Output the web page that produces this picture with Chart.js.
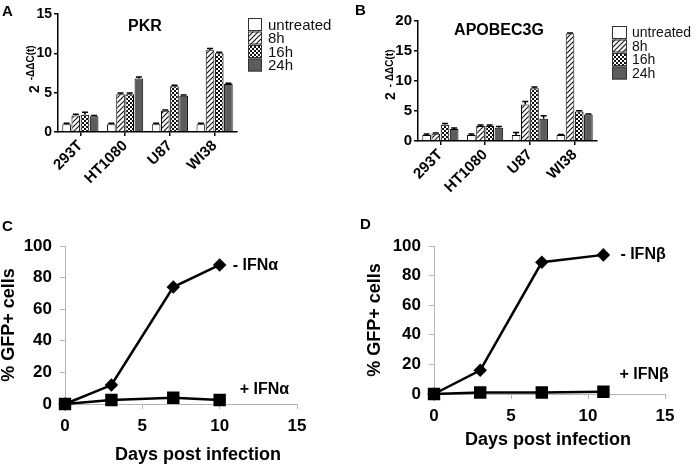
<!DOCTYPE html>
<html>
<head>
<meta charset="utf-8">
<script src="https://cdn.jsdelivr.net/npm/chart.js@4.4.0/dist/chart.umd.min.js"></script>
<style>
body{margin:0;background:#fff;}
#wrap{position:relative;width:700px;height:465px;overflow:hidden;background:#fff;}
.p{position:absolute;}
.lt{position:absolute;font:bold 15px "Liberation Sans",Arial,sans-serif;color:#000;line-height:15px;}
</style>
</head>
<body>
<div id="wrap">
  <div class="p" style="left:0;top:0;width:350px;height:210px"><canvas id="a" width="350" height="210"></canvas></div>
  <div class="p" style="left:350px;top:0;width:350px;height:210px"><canvas id="b" width="350" height="210"></canvas></div>
  <div class="p" style="left:0;top:210px;width:350px;height:255px"><canvas id="c" width="350" height="255"></canvas></div>
  <div class="p" style="left:350px;top:210px;width:350px;height:255px"><canvas id="d" width="350" height="255"></canvas></div>
  <div class="lt" style="left:2px;top:3px">A</div>
  <div class="lt" style="left:355px;top:2px">B</div>
  <div class="lt" style="left:2px;top:218px">C</div>
  <div class="lt" style="left:360px;top:216px">D</div>
</div>
<script>
// cell lines and treatment times
let cells = ["293T","HT1080","U87","WI38"];
let times = ["untreated","8h","16h","24h"];

// PKR 2^-ddCt
let pkrUntreated = [1.0,1.0,1.0,1.0];
let pkr8h  = [2.1,4.8,2.7,10.4];
let pkr16h = [2.2,4.8,5.8,10.0];
let pkr24h = [2.0,6.8,4.6,6.1];
let pkrErrUntreated = [0.1,0.1,0.1,0.1];
let pkrErr8h  = [0.15,0.15,0.1,0.2];
let pkrErr16h = [0.3,0.15,0.15,0.15];
let pkrErr24h = [0.1,0.2,0.1,0.1];

// APOBEC3G 2^-ddCt
let apoUntreated = [1.0,1.0,1.0,1.0];
let apo8h  = [1.2,2.5,6.1,17.9];
let apo16h = [2.7,2.5,8.8,4.9];
let apo24h = [2.0,2.2,3.7,4.4];
let apoErrUntreated = [0.15,0.15,0.4,0.1];
let apoErr8h  = [0.15,0.15,0.5,0.1];
let apoErr16h = [0.2,0.15,0.2,0.15];
let apoErr24h = [0.15,0.2,0.5,0.1];

// % GFP+ cells
let daysA = [0,3,7,10];
let gfpMinusIFNa = [0,12,74,88];
let gfpPlusIFNa  = [0,2.5,4,2.5];
let daysB = [0,3,7,11];
let gfpMinusIFNb = [0,16,89,94];
let gfpPlusIFNb  = [0,1,1,1.5];

let F = '"Liberation Sans", Arial, sans-serif';

function hatch(){
  let s = 5, c = document.createElement("canvas");
  c.width = s; c.height = s;
  let g = c.getContext("2d");
  g.fillStyle = "#fff"; g.fillRect(0,0,s,s);
  g.strokeStyle = "#111"; g.lineWidth = 1.1;
  g.beginPath();
  g.moveTo(0,s); g.lineTo(s,0);
  g.moveTo(-1,1); g.lineTo(1,-1);
  g.moveTo(s-1,s+1); g.lineTo(s+1,s-1);
  g.stroke();
  return g.createPattern(c,"repeat");
}
function checker(){
  let c = document.createElement("canvas");
  c.width = 4; c.height = 4;
  let g = c.getContext("2d");
  g.fillStyle = "#fff"; g.fillRect(0,0,4,4);
  g.fillStyle = "#111"; g.fillRect(0,0,2,2); g.fillRect(2,2,2,2);
  return g.createPattern(c,"repeat");
}
let fills = ["#fff", hatch(), checker(), "#5c5c5c"];

let errorBars = {
  id:"errorBars",
  afterDatasetsDraw(chart){
    let ctx = chart.ctx, y = chart.scales.y;
    ctx.save();
    ctx.strokeStyle = "#000"; ctx.lineWidth = 1.5;
    chart.data.datasets.forEach((ds,i)=>{
      chart.getDatasetMeta(i).data.forEach((bar,j)=>{
        let top = y.getPixelForValue(ds.data[j]+ds.err[j]);
        ctx.beginPath();
        ctx.moveTo(bar.x,bar.y); ctx.lineTo(bar.x,top);
        ctx.moveTo(bar.x-3,top); ctx.lineTo(bar.x+3,top);
        ctx.stroke();
      });
    });
    ctx.restore();
  }
};

let boxLegend = {
  id:"boxLegend",
  afterDraw(chart,args,o){
    let ctx = chart.ctx;
    ctx.save();
    ctx.font = o.size+"px "+F;
    ctx.textBaseline = "middle";
    chart.data.datasets.forEach((ds,i)=>{
      let y = o.y + i*o.step;
      ctx.fillStyle = ds.backgroundColor;
      ctx.fillRect(o.x,y,o.w,o.h);
      ctx.strokeStyle = "#333"; ctx.lineWidth = 1;
      ctx.strokeRect(o.x+0.5,y+0.5,o.w-1,o.h-1);
      ctx.fillStyle = "#111";
      ctx.fillText(ds.label,o.tx,y+o.h/2+1);
    });
    ctx.restore();
  }
};

let panelText = {
  id:"panelText",
  afterDraw(chart,args,o){
    let ctx = chart.ctx;
    ctx.save();
    ctx.fillStyle = "#000";
    ctx.textBaseline = "middle";
    ctx.textAlign = "center";
    ctx.font = "bold 16px "+F;
    ctx.fillText(o.title,o.tx,o.ty);
    // y axis title: 2 with superscript
    ctx.translate(o.yx,o.yy);
    ctx.rotate(-Math.PI/2);
    ctx.textAlign = "left";
    ctx.textBaseline = "alphabetic";
    ctx.font = "bold 14px "+F;
    ctx.fillText("2",0,5);
    let w = ctx.measureText("2").width;
    ctx.font = "bold 10px "+F;
    ctx.fillText(o.sup,w+o.gap,o.supDy);
    ctx.restore();
  }
};

let endLabels = {
  id:"endLabels",
  afterDraw(chart,args,o){
    let ctx = chart.ctx;
    ctx.save();
    ctx.fillStyle = "#000";
    ctx.font = "bold 16px "+F;
    ctx.textBaseline = "middle";
    chart.data.datasets.forEach((ds,i)=>{
      let pts = chart.getDatasetMeta(i).data;
      let p = pts[pts.length-1];
      ctx.fillText(ds.endLabel,p.x+ds.labelDx,p.y+ds.labelDy);
    });
    // x axis title
    ctx.textAlign = "center";
    ctx.font = "bold 18px "+F;
    ctx.fillText("Days post infection",o.tx,o.ty);
    ctx.restore();
  }
};

function barChart(id, series, errs, cfg){
  return new Chart(document.getElementById(id),{
    type:"bar",
    data:{
      labels:cells,
      datasets:times.map((t,i)=>({
        label:t, data:series[i], err:errs[i],
        backgroundColor:fills[i], borderColor:"#000", borderWidth:1,
        categoryPercentage:0.82, barPercentage:0.94
      }))
    },
    options:{
      responsive:false, animation:false,
      layout:{padding:cfg.pad},
      plugins:{legend:{display:false}, tooltip:{enabled:false},
        boxLegend:cfg.legend, panelText:cfg.text},
      scales:{
        x:{
          ticks:{color:"#000",font:{family:F,size:15,weight:"bold"},minRotation:45,maxRotation:45,autoSkip:false,padding:1},
          grid:{drawOnChartArea:false,offset:false,tickLength:4,color:"#000",lineWidth:1.5},
          border:{color:"#000",width:1.5},
          afterFit(s){ s.height = cfg.xh; }
        },
        y:{
          min:0, max:cfg.max,
          ticks:{stepSize:5,color:"#000",font:{family:F,size:cfg.yfont,weight:"bold"},padding:2},
          grid:{drawOnChartArea:false,tickLength:4,color:"#000",lineWidth:1.5},
          border:{color:"#000",width:1.5},
          afterFit(s){ s.width = cfg.yw; }
        }
      }
    },
    plugins:[errorBars,boxLegend,panelText]
  });
}

barChart("a",
  [pkrUntreated,pkr8h,pkr16h,pkr24h],
  [pkrErrUntreated,pkrErr8h,pkrErr16h,pkrErr24h],
  {pad:{top:14,right:113,left:0,bottom:0}, xh:78, yw:58, max:15, yfont:14,
   legend:{x:248,y:18,w:14,h:13,step:13.5,tx:268,size:15},
   text:{title:"PKR",tx:145,ty:27,yx:34,yy:93,sup:"-ΔΔC(t)",gap:5,supDy:-0.5}});

barChart("b",
  [apoUntreated,apo8h,apo16h,apo24h],
  [apoErrUntreated,apoErr8h,apoErr16h,apoErr24h],
  {pad:{top:21,right:103,left:0,bottom:0}, xh:69, yw:68, max:20, yfont:15,
   legend:{x:262,y:26,w:15,h:13,step:13.5,tx:282,size:14},
   text:{title:"APOBEC3G",tx:149,ty:31,yx:40,yy:100,sup:"- ΔΔC(t)",gap:5,supDy:2.5}});

function lineChart(id, days, minus, plus, cfg){
  let pts = v => days.map((d,i)=>({x:d,y:v[i]}));
  return new Chart(document.getElementById(id),{
    type:"line",
    data:{
      datasets:[
        {label:cfg.minus, endLabel:cfg.minus, labelDx:cfg.mdx, labelDy:cfg.mdy,
         data:pts(minus), borderColor:"#000", borderWidth:2.5, pointStyle:"rectRot",
         pointRadius:5, pointBackgroundColor:"#000", pointBorderColor:"#000", clip:false},
        {label:cfg.plus, endLabel:cfg.plus, labelDx:cfg.pdx, labelDy:cfg.pdy,
         data:pts(plus), borderColor:"#000", borderWidth:2.5, pointStyle:"rect",
         pointRadius:7, pointBackgroundColor:"#000", pointBorderColor:"#000", clip:false}
      ]
    },
    options:{
      responsive:false, animation:false,
      layout:{padding:cfg.pad},
      plugins:{legend:{display:false}, tooltip:{enabled:false}, endLabels:{tx:198,ty:cfg.xty}},
      scales:{
        x:{
          type:"linear", min:0, max:15,
          ticks:{stepSize:5,color:"#000",font:{family:F,size:17,weight:"bold"},padding:7},
          grid:{drawOnChartArea:false,tickLength:5,color:"#b5b5b5"},
          border:{color:"#b5b5b5",width:1},
          afterFit(s){ s.height = cfg.xh; }
        },
        y:{
          min:0, max:100,
          ticks:{stepSize:20,color:"#000",font:{family:F,size:17,weight:"bold"},padding:8},
          grid:{drawOnChartArea:false,tickLength:5,color:"#b5b5b5"},
          border:{color:"#b5b5b5",width:1},
          title:{display:true,text:"% GFP+ cells",color:"#000",font:{family:F,size:18,weight:"bold"},padding:{top:cfg.ytp,bottom:0}},
          afterFit(s){ s.width = cfg.yw; }
        }
      }
    },
    plugins:[endLabels]
  });
}

lineChart("c", daysA, gfpMinusIFNa, gfpPlusIFNa,
  {minus:"- IFNα", plus:"+ IFNα", mdx:13, mdy:1, pdx:20, pdy:-10,
   pad:{top:36,right:53,left:0,bottom:0}, xh:61, yw:65, ytp:-2, xty:245});

lineChart("d", daysB, gfpMinusIFNb, gfpPlusIFNb,
  {minus:"- IFNβ", plus:"+ IFNβ", mdx:17, mdy:0, pdx:16, pdy:-17,
   pad:{top:36,right:35,left:0,bottom:0}, xh:71, yw:84, ytp:14, xty:230});
</script>
</body>
</html>
